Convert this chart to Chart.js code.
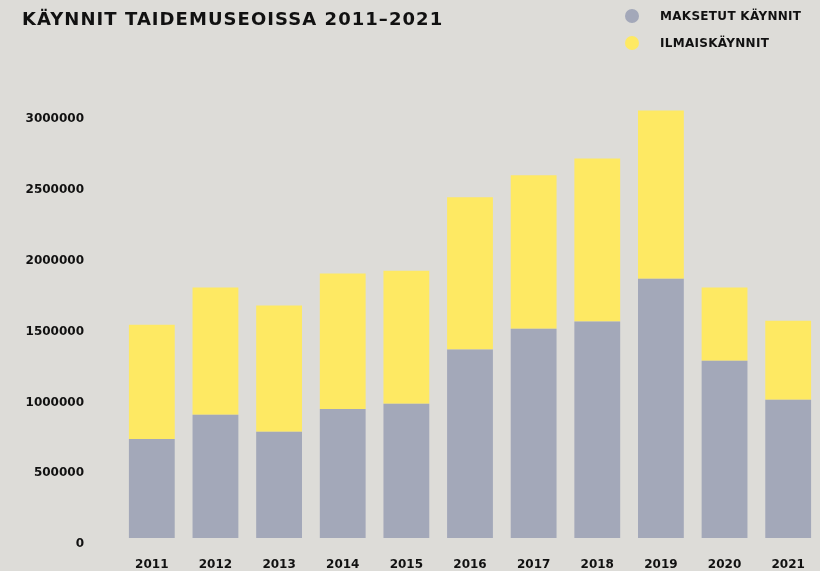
<!DOCTYPE html>
<html>
<head>
<meta charset="utf-8">
<script src="https://cdn.jsdelivr.net/npm/chart.js@4/dist/chart.umd.min.js"></script>
<style>
  html, body { margin: 0; padding: 0; background: #dddcd8; overflow: hidden; }
  #wrap { position: relative; width: 820px; height: 571px; }
  #chart { display: block; }
  #title {
    position: absolute; left: 22px; top: 8px; margin: 0;
    font: 700 18px "DejaVu Sans", sans-serif; color: #111; letter-spacing: 1.05px;
  }
  #legend { position: absolute; left: 625px; top: 2px; font: 700 12px "DejaVu Sans", sans-serif; color: #111; letter-spacing: 0.3px; }
  #legend div { display: flex; align-items: center; height: 27px; }
  #legend span.dot { width: 14px; height: 14px; border-radius: 50%; margin-right: 21px; }
</style>
</head>
<body>
<div id="wrap">
  <canvas id="chart" width="820" height="571"></canvas>
  <h1 id="title">KÄYNNIT TAIDEMUSEOISSA 2011–2021</h1>
  <div id="legend"></div>
</div>
<script>
// Données
const years = ['2011', '2012', '2013', '2014', '2015', '2016', '2017', '2018', '2019', '2020', '2021'];
const maksetut = [700000, 870000, 750000, 912000, 948000, 1332000, 1478000, 1530000, 1832000, 1252000, 976000];
const ilmaiset = [806000, 900000, 893000, 957000, 940000, 1075000, 1084000, 1150000, 1188000, 518000, 559000];
const yTicks = [0, 500000, 1000000, 1500000, 2000000, 2500000, 3000000];
const seriesLabels = ['MAKSETUT KÄYNNIT', 'ILMAISKÄYNNIT'];
const colors = ['#a3a8b9', '#fee963'];

const legend = document.getElementById('legend');
seriesLabels.forEach((label, i) => {
    const row = document.createElement('div');
    row.innerHTML = `<span class="dot" style="background:${colors[i]}"></span>${label}`;
    legend.appendChild(row);
});

const tickFont = { family: '"DejaVu Sans", sans-serif', size: 12, weight: 'bold' };

new Chart(document.getElementById('chart').getContext('2d'), {
    type: 'bar',
    data: {
        labels: years,
        datasets: [
            { label: seriesLabels[0], data: maksetut, backgroundColor: colors[0], borderWidth: 0 },
            { label: seriesLabels[1], data: ilmaiset, backgroundColor: colors[1], borderWidth: 0 }
        ]
    },
    options: {
        responsive: false,
        animation: false,
        layout: { padding: { top: 85, right: 0, left: 0, bottom: 0 } },
        datasets: { bar: { categoryPercentage: 1, barPercentage: 0.72 } },
        plugins: {
            legend: { display: false },
            tooltip: { enabled: false }
        },
        scales: {
            x: {
                stacked: true,
                grid: { display: false, drawTicks: false },
                border: { display: false },
                ticks: { color: '#111', font: tickFont, padding: 20 },
                afterFit: (axis) => {
                    axis.height = 33;
                    axis.paddingLeft = 0;
                    axis.paddingRight = 0;
                }
            },
            y: {
                stacked: true,
                min: 0,
                max: 3200000,
                grid: { display: false, drawTicks: false },
                border: { display: false },
                ticks: { color: '#111', font: tickFont, padding: 36, labelOffset: 6, callback: (v) => String(v) },
                afterBuildTicks: (axis) => { axis.ticks = yTicks.map(v => ({ value: v })); },
                afterFit: (axis) => {
                    axis.width = 120;
                    axis.paddingTop = 0;
                    axis.paddingBottom = 0;
                }
            }
        }
    }
});
</script>
</body>
</html>
